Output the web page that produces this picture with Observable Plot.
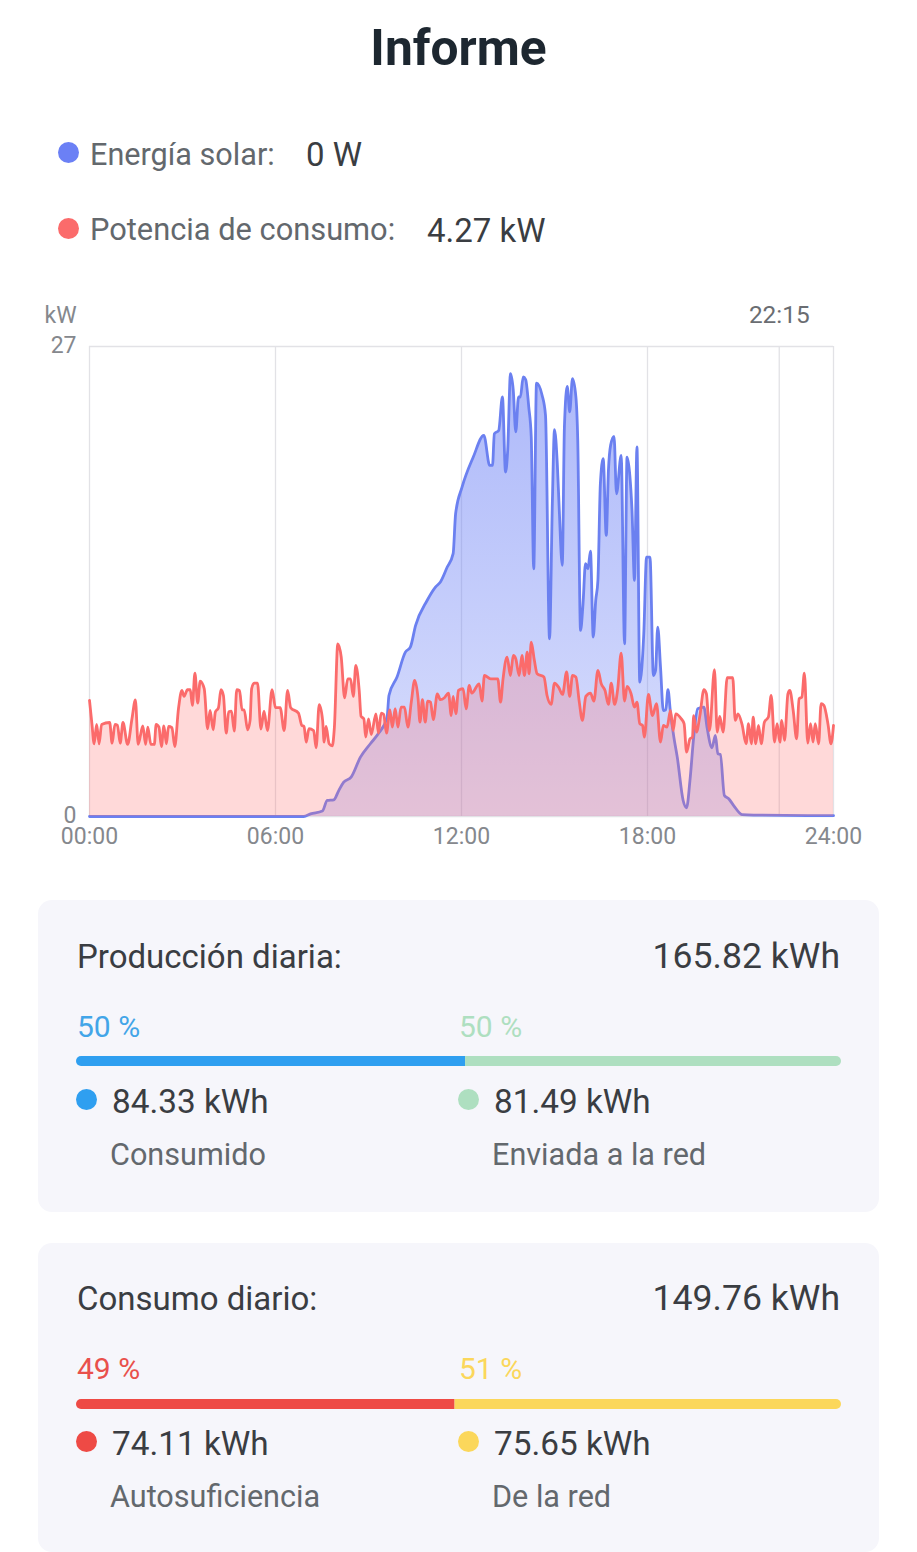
<!DOCTYPE html>
<html lang="es">
<head>
<meta charset="utf-8">
<script src="https://cdn.jsdelivr.net/npm/d3@7"></script>
<script src="https://cdn.jsdelivr.net/npm/@observablehq/plot@0.6"></script>
<style>
html,body{margin:0;padding:0;background:#fff;}
body{width:917px;height:1552px;position:relative;overflow:hidden;font-family:Roboto,sans-serif;color:#3a3d42;}
.t{position:absolute;white-space:nowrap;line-height:1;}
.dot{position:absolute;border-radius:50%;}
.card{position:absolute;left:38px;width:841px;background:#f6f6fb;border-radius:14px;}
.barwrap{position:absolute;left:76px;width:765px;height:10px;border-radius:5px;overflow:hidden;}
.barwrap svg{display:block;}
#chart{position:absolute;left:0;top:300px;}
</style>
</head>
<body>
<div class="t" style="left:0;width:917px;text-align:center;top:24px;font-size:49.7px;font-weight:700;color:#1d2730;">Informe</div>

<div class="dot" style="left:58px;top:142px;width:21px;height:21px;background:#6b80f5;"></div>
<div class="t" style="left:90px;top:140px;font-size:30.6px;color:#63686d;">Energía solar:</div>
<div class="t" style="left:306px;top:138px;font-size:33px;">0 W</div>
<div class="dot" style="left:58px;top:218px;width:21px;height:21px;background:#fb6b6b;"></div>
<div class="t" style="left:90px;top:215px;font-size:30.8px;color:#63686d;">Potencia de consumo:</div>
<div class="t" style="left:427px;top:214px;font-size:33px;">4.27 kW</div>

<div id="chart"></div>

<div class="card" style="top:900px;height:312px;"></div>
<div class="t" style="left:77px;top:940px;font-size:33px;">Producción diaria:</div>
<div class="t" style="right:77px;top:939px;font-size:35.6px;">165.82 kWh</div>
<div class="t" style="left:77px;top:1012px;font-size:30px;color:#42a5e8;">50 %</div>
<div class="t" style="left:459px;top:1012px;font-size:30px;color:#aedfc0;">50 %</div>
<div class="barwrap" id="bar1" style="top:1056px;"></div>
<div class="dot" style="left:76px;top:1089px;width:21px;height:21px;background:#2f9ff0;"></div>
<div class="t" style="left:112px;top:1085px;font-size:33.3px;">84.33 kWh</div>
<div class="t" style="left:110px;top:1140px;font-size:30.6px;color:#63686d;">Consumido</div>
<div class="dot" style="left:458px;top:1089px;width:21px;height:21px;background:#aedfc0;"></div>
<div class="t" style="left:494px;top:1085px;font-size:33.3px;">81.49 kWh</div>
<div class="t" style="left:492px;top:1140px;font-size:30.6px;color:#63686d;">Enviada a la red</div>

<div class="card" style="top:1243px;height:309px;"></div>
<div class="t" style="left:77px;top:1282px;font-size:33px;">Consumo diario:</div>
<div class="t" style="right:77px;top:1281px;font-size:35.6px;">149.76 kWh</div>
<div class="t" style="left:77px;top:1354px;font-size:30px;color:#e9504b;">49 %</div>
<div class="t" style="left:459px;top:1354px;font-size:30px;color:#fbd75b;">51 %</div>
<div class="barwrap" id="bar2" style="top:1399px;"></div>
<div class="dot" style="left:76px;top:1431px;width:21px;height:21px;background:#ee4a45;"></div>
<div class="t" style="left:112px;top:1427px;font-size:33.3px;">74.11 kWh</div>
<div class="t" style="left:110px;top:1482px;font-size:30.6px;color:#63686d;">Autosuficiencia</div>
<div class="dot" style="left:458px;top:1431px;width:21px;height:21px;background:#fbd75b;"></div>
<div class="t" style="left:494px;top:1427px;font-size:33.3px;">75.65 kWh</div>
<div class="t" style="left:492px;top:1482px;font-size:30.6px;color:#63686d;">De la red</div>

<script>
const consumoHoras = [0,.08,.15,.23,.31,.39,.65,.73,.82,.90,.99,1.08,1.23,1.37,1.48,1.57,1.72,1.81,1.88,1.98,2.09,2.15,2.24,2.32,2.40,2.48,2.55,2.66,2.75,2.87,2.98,3.05,3.16,3.25,3.32,3.40,3.49,3.57,3.70,3.81,3.89,3.99,4.06,4.16,4.24,4.32,4.41,4.49,4.58,4.67,4.75,4.84,4.92,4.99,5.10,5.18,5.23,5.31,5.42,5.53,5.63,5.74,5.89,6.00,6.15,6.28,6.39,6.49,6.74,6.85,6.92,6.99,7.08,7.23,7.31,7.41,7.52,7.57,7.63,7.73,7.83,7.90,
8.01,8.12,8.23,8.33,8.42,8.51,8.59,8.70,8.76,8.85,8.91,9.00,9.09,9.24,9.32,9.41,9.49,9.58,9.69,9.77,9.86,9.95,10.05,10.16,10.27,10.38,10.49,10.60,10.66,10.74,10.83,10.91,11.00,11.09,11.22,11.32,11.45,11.58,11.67,11.73,11.82,11.90,12.05,12.15,12.25,12.33,12.57,12.66,12.74,12.94,13.17,13.26,13.34,13.47,13.58,13.67,13.75,13.86,13.95,14.03,14.12,14.18,14.25,14.35,14.44,14.66,14.76,14.89,15.00,15.13,15.26,
15.39,15.49,15.58,15.69,15.80,15.90,16.01,16.16,16.27,16.40,16.51,16.63,16.74,16.83,16.94,17.04,17.15,17.26,17.34,17.47,17.58,17.66,17.75,17.84,17.90,18.03,18.16,18.29,18.42,18.51,18.63,18.74,18.83,18.91,19.09,19.18,19.26,19.37,19.45,19.49,19.58,19.69,19.82,19.90,20.00,20.16,20.25,20.33,20.44,20.57,20.75,20.83,20.92,21.05,21.18,21.26,21.35,21.41,21.49,21.58,21.67,21.77,21.90,21.99,22.10,22.18,22.27,22.33,22.42,22.53,22.59,22.70,22.81,22.89,22.98,23.06,23.17,23.26,23.34,23.41,23.52,23.60,23.69,23.82,23.92,24];
const consumoKw = [6.67,5.29,4.18,5.29,4.18,5.29,5.40,4.21,5.29,5.25,4.21,5.40,4.14,5.61,6.70,4.14,5.21,4.14,5.13,4.14,4.14,5.29,5.13,4.02,5.21,4.18,5.17,5.10,4.02,6.19,7.24,6.90,7.28,7.28,6.38,8.24,6.51,7.78,7.34,5.04,6.09,4.98,6.00,6.25,7.28,6.95,4.79,6.02,6.05,4.90,7.28,7.24,6.13,6.13,4.98,5.52,7.34,7.66,7.66,5.02,6.05,4.94,7.28,6.25,6.25,4.94,7.24,6.25,5.94,5.23,5.17,4.27,5.04,4.94,3.95,6.42,5.52,4.27,5.17,4.18,4.06,5.13,
9.92,9.16,6.82,7.91,7.91,6.90,8.68,7.24,5.75,5.61,4.56,5.61,4.71,5.90,4.79,5.94,5.86,4.79,6.13,5.13,6.19,5.13,6.28,6.28,5.13,6.57,7.82,6.76,5.42,6.71,5.42,6.63,6.57,5.56,7.05,6.71,6.82,7.09,5.80,6.90,5.90,7.24,7.34,6.19,7.53,7.09,7.62,6.63,8.10,7.91,7.91,6.57,7.91,9.16,8.10,9.25,9.06,8.10,9.25,8.10,9.44,8.20,10.02,8.97,8.20,8.01,6.95,6.44,7.66,7.43,7.01,
8.30,6.90,8.10,8.01,6.57,5.52,6.90,7.09,6.63,8.39,7.62,7.24,6.44,7.66,6.44,7.34,9.39,6.63,7.47,7.05,6.28,6.57,5.33,5.23,4.56,7.01,5.80,6.48,4.27,5.23,5.13,6.09,4.94,5.90,5.61,5.33,3.70,4.46,4.56,5.80,4.85,5.80,7.28,7.05,4.94,8.43,4.85,5.75,4.85,7.97,7.97,5.52,5.90,5.29,4.18,5.33,4.18,5.71,4.18,5.23,4.18,5.42,5.71,6.95,4.27,5.33,4.27,5.52,4.37,7.05,7.24,6.09,4.46,6.76,6.86,8.24,4.21,5.33,4.27,5.33,4.18,6.48,6.38,5.33,4.18,5.23];

const solarHoras = [0,6.91,7.13,7.51,7.67,7.88,8.04,8.20,8.44,8.74,9.06,9.33,9.60,9.66,9.92,10.19,10.35,10.52,10.89,11.16,11.32,11.54,11.73,11.81,12.02,12.38,12.72,12.91,13.00,13.06,13.20,13.32,13.42,13.49,13.58,13.67,13.75,13.84,13.90,13.99,14.07,14.17,14.25,14.33,14.42,14.60,14.71,14.84,14.93,15.00,15.09,15.15,15.25,15.32,15.41,15.49,15.58,15.69,15.75,15.84,15.92,16.00,16.08,16.16,16.25,16.33,16.40,16.48,16.57,16.67,16.74,16.81,16.92,17.00,17.15,17.26,17.34,17.43,17.50,17.58,17.66,17.75,17.88,17.97,18.08,18.19,18.26,18.33,18.42,18.51,18.59,18.66,18.74,18.85,18.96,19.15,19.26,19.37,19.49,19.62,19.82,19.92,20.08,20.19,20.27,20.35,20.48,20.62,20.78,21.05,21.43,24];
const solarKw = [0,0,.15,.31,.92,.96,1.49,1.97,2.26,3.41,4.18,4.79,5.71,6.95,8.01,9.44,9.73,10.98,12.41,13.18,13.47,14.33,15.10,17.39,18.93,20.65,21.90,20.17,20.17,21.99,22.18,24.10,19.79,21.03,25.44,24.48,22.09,24.10,24.10,25.25,25.10,23.52,21.80,14.23,24.90,24.20,23.05,10.21,17.97,22.22,20.27,17.78,14.43,22.38,24.71,23.24,25.15,24.10,21.61,10.69,12.22,14.52,14.23,15.25,10.31,12.41,13.56,19.12,20.56,16.15,19.89,21.32,21.84,18.54,20.75,9.92,20.65,19.60,17.59,13.56,21.23,7.72,10.50,14.90,14.90,8.10,8.39,10.88,8.58,6.09,6.13,7.28,6.00,4.56,3.41,.92,.50,2.07,4.56,6.19,6.28,5.13,3.95,4.66,3.60,3.56,1.21,1.02,.63,.11,.08,.05];

const horasEje = [0,6,12,18,24];
const horaCursor = 22.25;
const etiquetaCursor = "22:15";
const unidad = "kW";
const limitesY = [0,27];

const consumo = consumoHoras.map((h,i)=>({h,kw:consumoKw[i]}));
const solar = solarHoras.map((h,i)=>({h,kw:solarKw[i]}));

const defs = () => {
  const ns = "http://www.w3.org/2000/svg";
  const d = document.createElementNS(ns,"defs");
  const g = document.createElementNS(ns,"linearGradient");
  g.setAttribute("id","azul"); g.setAttribute("x1","0"); g.setAttribute("y1","0"); g.setAttribute("x2","0"); g.setAttribute("y2","1");
  [["0%",0.55],["100%",0.25]].forEach(([o,a])=>{
    const s = document.createElementNS(ns,"stop");
    s.setAttribute("offset",o); s.setAttribute("stop-color","#6b80f5"); s.setAttribute("stop-opacity",a);
    g.appendChild(s);
  });
  d.appendChild(g);
  return d;
};

const curva = "monotone-x";
const plot = Plot.plot({
  width:917, height:560,
  marginLeft:89, marginRight:84, marginTop:46, marginBottom:44,
  style:{fontFamily:"Roboto,sans-serif",fontSize:"23px",background:"transparent",color:"#85888d"},
  x:{domain:[0,24]},
  y:{domain:limitesY},
  marks:[
    defs,
    Plot.ruleX([...horasEje,horaCursor],{stroke:"#e2e2e6",strokeWidth:1.3}),
    Plot.ruleY(limitesY,{stroke:"#e2e2e6",strokeWidth:1.3}),
    Plot.areaY(solar,{x:"h",y:"kw",fill:"url(#azul)",curve:curva}),
    Plot.lineY(solar,{x:"h",y:"kw",stroke:"#6b80f0",strokeWidth:2.8,curve:curva}),
    Plot.areaY(consumo,{x:"h",y:"kw",fill:"#ff6b6b",fillOpacity:0.26,curve:curva}),
    Plot.lineY(consumo,{x:"h",y:"kw",stroke:"#fb6b6b",strokeWidth:2.8,curve:curva}),
    Plot.axisX({ticks:horasEje,tickSize:0,tickPadding:11,label:null,tickFormat:d=>String(d).padStart(2,"0")+":00"}),
    Plot.axisY({ticks:limitesY,tickSize:0,tickPadding:13,dy:-1,label:null}),
    Plot.text([unidad],{x:0,y:27,dx:-29,dy:-31,text:d=>d,fill:"#85888d"}),
    Plot.text([etiquetaCursor],{x:horaCursor,y:27,dy:-31,text:d=>d,fontSize:24.4,fill:"#6a6d72"})
  ]
});
document.getElementById("chart").appendChild(plot);

const produccion = [{k:"Consumido",v:84.33,c:"#2f9ff0"},{k:"Enviada a la red",v:81.49,c:"#aedfc0"}];
const consumoDia = [{k:"Autosuficiencia",v:74.11,c:"#ee4a45"},{k:"De la red",v:75.65,c:"#fbd75b"}];
function barra(id,data){
  const p = Plot.plot({
    width:765,height:10,margin:0,
    x:{axis:null,domain:[0,d3.sum(data,d=>d.v)]},
    marks:[Plot.barX(data,{x:"v",fill:"c",order:null})]
  });
  document.getElementById(id).appendChild(p);
}
barra("bar1",produccion);
barra("bar2",consumoDia);
</script>
</body>
</html>
